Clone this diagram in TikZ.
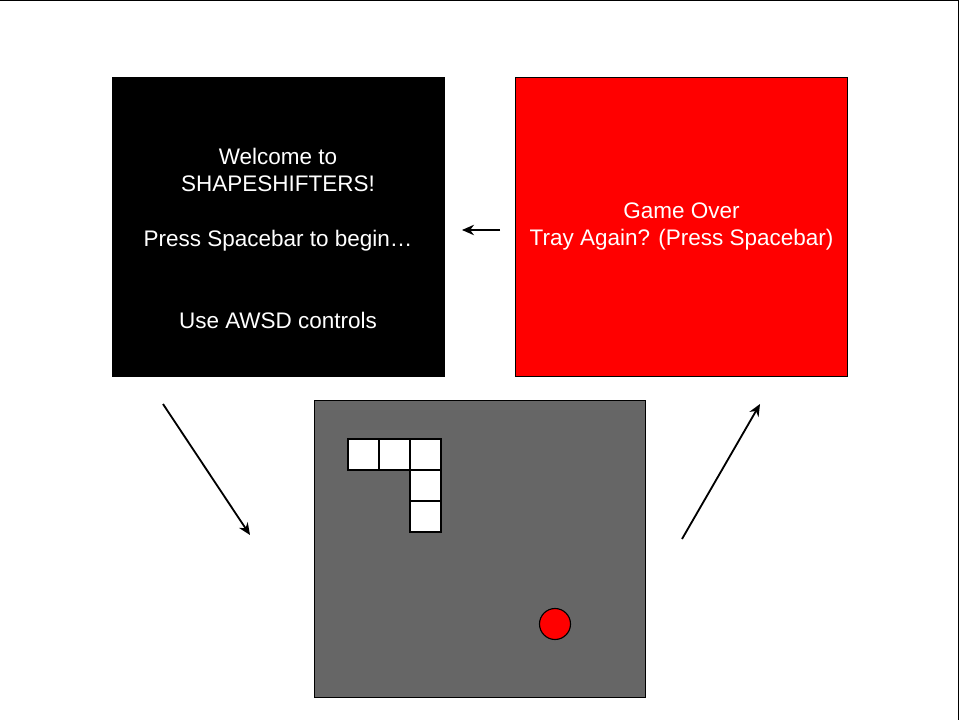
\documentclass[tikz,border=0pt]{standalone}
\usepackage{fontspec}
\setmainfont{Liberation Sans}
\usepackage{tikz}
\usetikzlibrary{positioning,arrows.meta}

\begin{document}
\begin{tikzpicture}[
    screen/.style={rectangle, draw=black, line width=0.7pt, fill=#1, minimum width=8.3cm, minimum height=7.475cm, align=center, text=white, font=\fontsize{16}{19.4}\selectfont, inner sep=0pt},
    cell/.style={rectangle, draw=black, line width=0.8pt, fill=white, minimum size=0.775cm, inner sep=0pt},
    arrow/.style={-{Stealth[length=3mm, width=2.6mm]}, line width=1.3pt, draw=black},
]
\useasboundingbox (0,0) rectangle (24,18);
\draw[line width=1pt] (0,17.99) -- (23.96,17.99) -- (23.96,0);

% the three screens
\node[screen=black] (welcome) at (6.95,12.3375) {\mbox{}\\[9pt]Welcome to\\SHAPESHIFTERS!\\[19.4pt]Press Spacebar to begin\ldots\\[38.8pt]Use AWSD controls};
\node[screen=red] (gameover) at (17.0375,12.3375) {Game Over\\Tray Again? (Press Spacebar)};
\node[screen=black!60, minimum width=8.275cm, minimum height=7.425cm] (play) at (11.9875,4.2875) {};

% the shape and the ball
\node[cell] (c1) at (9.0875,6.6375) {};
\node[cell] (c2) at (9.8625,6.6375) {};
\node[cell] (c3) at (10.6375,6.6375) {};
\node[cell] (c4) at (10.6375,5.8625) {};
\node[cell] (c5) at (10.6375,5.0875) {};
\node[circle, draw=black, line width=0.8pt, fill=red, minimum size=0.775cm, inner sep=0pt] (ball) at (13.875,2.4) {};

% arrows between the screens
\coordinate (startout) at (4.075,7.9);
\coordinate (playin) at (6.25,4.625);
\coordinate (playout) at (17.05,4.525);
\coordinate (overin) at (19.0,7.9);
\coordinate (overout) at (12.5,12.25);
\coordinate (startin) at (11.55,12.25);
\draw[arrow] (startout) -- (playin);
\draw[arrow] (playout) -- (overin);
\draw[arrow] (overout) -- (startin);
\end{tikzpicture}
\end{document}
